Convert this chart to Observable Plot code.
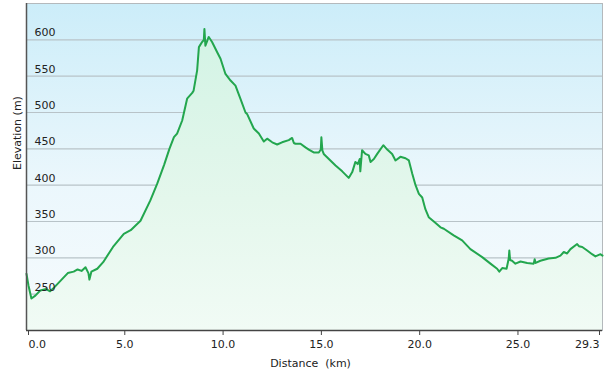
<!DOCTYPE html>
<html>
<head>
<meta charset="utf-8">
<script src="https://cdn.jsdelivr.net/npm/d3@7"></script>
<script src="https://cdn.jsdelivr.net/npm/@observablehq/plot@0.6"></script>
<style>
  html, body { margin: 0; padding: 0; background: #ffffff; }
  #chart svg { display: block; }
</style>
</head>
<body>
<div id="chart"></div>
<script>
const distanceKm = [0,0.1,0.25,0.45,0.7,1.0,1.2,1.4,1.75,2.1,2.4,2.6,2.8,3.0,3.15,3.2,3.3,3.6,3.9,4.4,4.95,5.3,5.8,6.3,6.65,7.0,7.27,7.5,7.66,7.92,8.17,8.43,8.5,8.68,8.77,8.93,9.02,9.05,9.1,9.27,9.44,9.7,9.87,10.12,10.38,10.63,10.88,11.14,11.22,11.56,11.82,12.07,12.24,12.5,12.75,13.0,13.34,13.51,13.6,13.68,13.94,14.19,14.36,14.61,14.87,14.97,15.0,15.05,15.12,15.38,15.72,16.06,16.39,16.57,16.73,16.85,16.95,16.98,17.07,17.24,17.41,17.5,17.67,17.84,18.15,18.35,18.6,18.77,19.02,19.28,19.45,19.62,19.79,19.96,20.13,20.29,20.46,20.72,21.06,21.23,21.73,22.16,22.58,23.18,23.6,23.94,24.05,24.2,24.42,24.53,24.56,24.6,24.7,24.87,25.13,25.47,25.8,25.85,25.9,26.14,26.56,26.91,27.16,27.33,27.5,27.67,28.01,28.1,28.27,28.52,28.77,28.94,29.2,29.3];
const elevationM = [278,262,244,248,255,257,254,259,269,279,281,284,282,287,279,270,281,285,294,315,333,338,351,379,402,428,450,466,471,489,519,527,530,558,590,597,600,615,592,604,597,583,574,553,544,537,519,500,498,478,471,460,464,459,456,459,462,465,458,457,457,452,449,445,445,449,466,448,443,436,427,419,410,418,432,429,436,419,448,443,441,432,436,443,455,449,443,434,439,437,434,416,400,388,383,367,356,350,342,340,331,324,312,301,292,285,281,286,285,299,310,297,296,292,295,293,292,298,293,296,299,300,303,308,306,312,319,316,315,310,305,302,305,303];
const yTicks = [250,300,350,400,450,500,550,600];
const xTicksMid = [5,10,15,20,25];
const xTickFirst = [0];
const xTickLast = [29.3];
const xLabel = "Distance  (km)";
const yLabel = "Elevation (m)";

const data = distanceKm.map((d, i) => ({d, e: elevationM[i]}));
const font = "'DejaVu Sans', Verdana, sans-serif";
const fmt = d3.format(".1f");

const chart = Plot.plot({
  width: 605,
  height: 375,
  marginLeft: 26,
  marginRight: 3,
  marginTop: 3,
  marginBottom: 45,
  style: {fontFamily: font, fontSize: "11px", color: "#222", background: "#ffffff"},
  x: {domain: [0, 29.3], axis: null},
  y: {domain: [200, 650], axis: null},
  marks: [
    Plot.frame({fill: "url(#bgGrad)", stroke: "#b4b9bc"}),
    Plot.ruleY(yTicks, {stroke: "#b8c3c8", strokeWidth: 1.2}),
    Plot.areaY(data, {x: "d", y1: 200, y2: "e", fill: "url(#areaGrad)"}),
    Plot.line(data, {x: "d", y: "e", stroke: "#23a64e", strokeWidth: 2, strokeLinejoin: "round"}),
    Plot.text(yTicks, {x: 0, y: d => d, text: d => String(d), dx: 8, dy: -7, textAnchor: "start", fill: "#222", fontSize: 11}),
    Plot.ruleX([0], {stroke: "#555", strokeWidth: 1.5}),
    Plot.ruleY([200], {stroke: "#444", strokeWidth: 1.5}),
    Plot.axisX(xTicksMid, {tickSize: 5, tickFormat: fmt, tickPadding: 5, label: null, stroke: "#444", fill: "#222", fontSize: 11}),
    Plot.axisX(xTickFirst, {tickSize: 5, tickFormat: fmt, tickPadding: 5, label: null, textAnchor: "start", dx: 2, stroke: "#444", fill: "#222", fontSize: 11}),
    Plot.axisX(xTickLast, {tickSize: 5, tickFormat: fmt, tickPadding: 5, label: null, textAnchor: "end", dx: -3, stroke: "#444", fill: "#222", fontSize: 11}),
    Plot.text([xLabel], {frameAnchor: "bottom", dx: -4, dy: 36, fill: "#222", fontSize: 11}),
    Plot.text([yLabel], {frameAnchor: "left", rotate: -90, dx: -9, dy: 3, fill: "#222", fontSize: 11})
  ]
});

const svg = d3.select(chart);
const defs = svg.insert("defs", ":first-child");
const bg = defs.append("linearGradient").attr("id", "bgGrad")
  .attr("gradientUnits", "userSpaceOnUse").attr("x1", 0).attr("x2", 0).attr("y1", 3).attr("y2", 330);
bg.append("stop").attr("offset", "0%").attr("stop-color", "#ccedf9");
bg.append("stop").attr("offset", "55%").attr("stop-color", "#ebf7fc");
bg.append("stop").attr("offset", "100%").attr("stop-color", "#f6fbfd");
const ag = defs.append("linearGradient").attr("id", "areaGrad")
  .attr("gradientUnits", "userSpaceOnUse").attr("x1", 0).attr("x2", 0).attr("y1", 3).attr("y2", 330);
ag.append("stop").attr("offset", "0%").attr("stop-color", "#d0f3e4");
ag.append("stop").attr("offset", "60%").attr("stop-color", "#e4f7ec");
ag.append("stop").attr("offset", "100%").attr("stop-color", "#f1fbf5");

document.getElementById("chart").appendChild(chart);
</script>
</body>
</html>
